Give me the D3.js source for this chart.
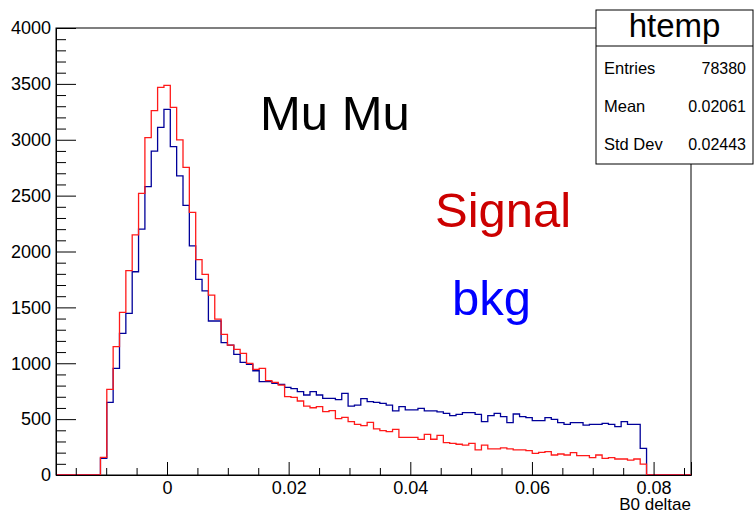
<!DOCTYPE html>
<html>
<head>
<meta charset="utf-8">
<script src="https://cdn.jsdelivr.net/npm/d3@7/dist/d3.min.js"></script>
<style>
  body { margin: 0; background: #fff; }
  svg { display: block; }
  text { font-family: "Liberation Sans", Arial, Helvetica, sans-serif; }
</style>
</head>
<body>
<svg id="chart" width="754" height="514"></svg>
<script>
// Histogram binning of B0 deltae (100 bins)
const binStart = -0.01825;
const binWidth = 0.001044;

// Signal counts per bin
const signalCounts = [
  0, 0, 0, 0, 0, 0, 0,
  158, 767, 1148, 1456, 1828, 2148, 2521, 3019, 3260, 3469,
  3487, 3290, 2998, 2753, 2351, 1927, 1796, 1610, 1394, 1259,
  1163, 1125, 1089, 999, 946, 955, 844, 829, 805, 701,
  695, 662, 617, 602, 611, 567, 576, 505, 515, 477,
  453, 441, 471, 412, 397, 388, 409, 337, 337, 337,
  319, 364, 320, 355, 289, 283, 275, 268, 283, 224,
  268, 233, 233, 242, 233, 224, 224, 218, 194, 203,
  209, 179, 188, 179, 200, 173, 173, 155, 179, 149,
  155, 143, 143, 134, 143, 98,
  0, 0, 0, 0, 0, 0, 0
];

// Background counts per bin (htemp)
const bkgCounts = [
  0, 0, 0, 0, 0, 0, 0,
  150, 650, 955, 1268, 1447, 1819, 2201, 2580, 2899, 3111,
  3272, 2938, 2676, 2413, 2050, 1751, 1647, 1378, 1378, 1184,
  1163, 1080, 1008, 990, 933, 835, 835, 820, 811, 785,
  773, 746, 716, 746, 716, 686, 686, 675, 731, 617,
  626, 683, 656, 650, 641, 626, 573, 611, 582, 582,
  597, 573, 573, 565, 552, 531, 543, 558, 558, 543,
  477, 531, 552, 522, 468, 546, 522, 513, 486, 486,
  513, 498, 468, 453, 468, 468, 447, 453, 453, 462,
  453, 433, 477, 453, 453, 239,
  0, 0, 0, 0, 0, 0, 0
];

const xMajorTicks = [0, 0.02, 0.04, 0.06, 0.08];
const xMinorTicks = [-0.015, -0.01, -0.005, 0.005, 0.01, 0.015, 0.025, 0.03, 0.035,
  0.045, 0.05, 0.055, 0.065, 0.07, 0.075, 0.085];
const yMajorTicks = [0, 500, 1000, 1500, 2000, 2500, 3000, 3500, 4000];
const yMinorTicks = d3.range(0, 4001, 100).filter(v => v % 500 !== 0);

const statsTitle = "htemp";
const statsNames = ["Entries", "Mean", "Std Dev"];
const statsValues = ["78380", "0.02061", "0.02443"];

const xTitle = "B0  deltae";

// ---- layout ----
const frame = { left: 56, right: 691, top: 28, bottom: 475 };
const svg = d3.select("#chart");

const nBins = signalCounts.length;
const x = d3.scaleLinear()
  .domain([binStart, binStart + nBins * binWidth])
  .range([frame.left, frame.right]);
const y = d3.scaleLinear().domain([0, 4000]).range([frame.bottom, frame.top]);

// frame box
svg.append("rect")
  .attr("x", frame.left).attr("y", frame.top)
  .attr("width", frame.right - frame.left).attr("height", frame.bottom - frame.top)
  .attr("fill", "none").attr("stroke", "#000").attr("stroke-width", 1);

// step outline of a histogram
function stepPoints(counts) {
  const pts = [];
  counts.forEach((c, i) => {
    const lo = binStart + i * binWidth;
    pts.push([lo, c], [lo + binWidth, c]);
  });
  return pts;
}
const line = d3.line().x(d => x(d[0])).y(d => y(d[1]));

svg.append("path")
  .attr("d", line(stepPoints(bkgCounts)))
  .attr("fill", "none").attr("stroke", "#000099").attr("stroke-width", 1.3);

svg.append("path")
  .attr("d", line(stepPoints(signalCounts)))
  .attr("fill", "none").attr("stroke", "#ff1a1a").attr("stroke-width", 1.3);

// axes with ticks pointing into the frame
const labelFont = '"Liberation Sans", Arial, sans-serif';
const yAxis = svg.append("g").attr("transform", `translate(${frame.left},0)`);
yAxis.call(d3.axisLeft(y).tickValues(yMajorTicks).tickSize(-20).tickPadding(5)
  .tickFormat(d3.format("d")));
yAxis.selectAll(".tick line").attr("stroke", "#000");
yAxis.select(".domain").attr("stroke", "#000");
yAxis.selectAll("text").attr("font-size", 18).attr("fill", "#000")
  .attr("font-family", labelFont);
const yMinor = svg.append("g").attr("transform", `translate(${frame.left},0)`);
yMinor.call(d3.axisLeft(y).tickValues(yMinorTicks).tickSize(-10).tickFormat(""));
yMinor.select(".domain").remove();
yMinor.selectAll(".tick line").attr("stroke", "#000");

const xAxis = svg.append("g").attr("transform", `translate(0,${frame.bottom})`);
xAxis.call(d3.axisBottom(x).tickValues(xMajorTicks).tickSize(-13).tickPadding(6)
  .tickFormat(d => d === 0 ? "0" : d3.format(".2f")(d)));
xAxis.select(".domain").attr("stroke", "#000");
xAxis.selectAll(".tick line").attr("stroke", "#000");
xAxis.selectAll("text").attr("font-size", 18).attr("fill", "#000")
  .attr("font-family", labelFont);
const xMinor = svg.append("g").attr("transform", `translate(0,${frame.bottom})`);
xMinor.call(d3.axisBottom(x).tickValues(xMinorTicks).tickSize(-7).tickFormat(""));
xMinor.select(".domain").remove();
xMinor.selectAll(".tick line").attr("stroke", "#000");

// axis title
svg.append("text")
  .attr("x", frame.right).attr("y", 510)
  .attr("text-anchor", "end").attr("font-size", 17).text(xTitle);

// annotations
svg.append("text").attr("x", 260).attr("y", 130).attr("font-size", 49)
  .attr("fill", "#000").text("Mu Mu");
svg.append("text").attr("x", 435).attr("y", 227).attr("font-size", 49)
  .attr("fill", "#cc0000").text("Signal");
svg.append("text").attr("x", 452).attr("y", 315).attr("font-size", 49)
  .attr("fill", "#0000ff").text("bkg");

// statistics box
const box = { x: 596, y: 10, w: 157, h: 154, sep: 46 };
const stats = svg.append("g");
stats.append("rect")
  .attr("x", box.x).attr("y", box.y).attr("width", box.w).attr("height", box.h)
  .attr("fill", "#fff").attr("stroke", "#000").attr("stroke-width", 1);
stats.append("line")
  .attr("x1", box.x).attr("x2", box.x + box.w)
  .attr("y1", box.sep).attr("y2", box.sep)
  .attr("stroke", "#000");
stats.append("text")
  .attr("x", box.x + box.w / 2).attr("y", 37)
  .attr("text-anchor", "middle").attr("font-size", 33).text(statsTitle);
statsNames.forEach((name, i) => {
  const by = 74 + i * 38;
  stats.append("text").attr("x", 604).attr("y", by).attr("font-size", 16.5).text(name);
  stats.append("text").attr("x", 746).attr("y", by).attr("font-size", 16)
    .attr("text-anchor", "end").text(statsValues[i]);
});
</script>
</body>
</html>
